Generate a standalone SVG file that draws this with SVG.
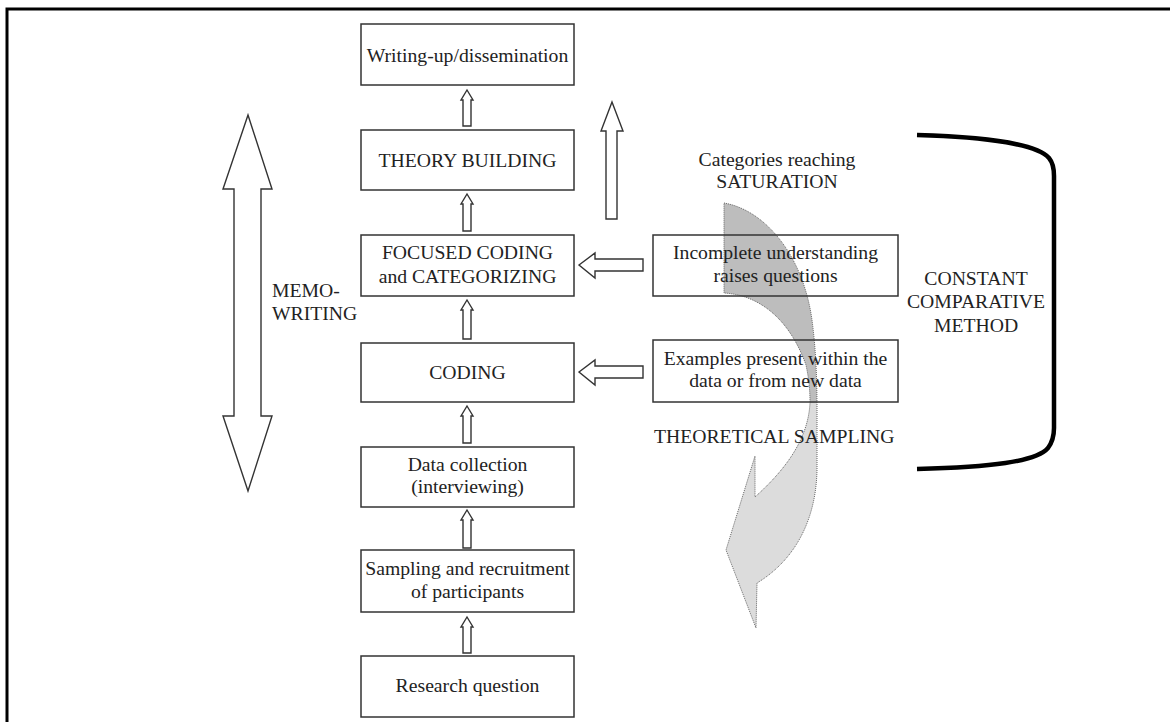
<svg xmlns="http://www.w3.org/2000/svg" width="1170" height="722" viewBox="0 0 1170 722">
  <style>
    .box { fill: none; stroke: #333; stroke-width: 1.5; }
    .hollow { fill: #fff; stroke: #333; stroke-width: 1.4; stroke-linejoin: miter; }
    .lbl { font-family: "Liberation Serif", "Times New Roman", serif; font-size: 19.7px; fill: #222; text-anchor: middle; }
    .lbl-l { font-family: "Liberation Serif", "Times New Roman", serif; font-size: 19.7px; fill: #222; }
    .frame { fill: none; stroke: #000; stroke-width: 3; }
    .bracket { fill: none; stroke: #000; stroke-width: 4.5; stroke-linecap: butt; }
    .sweep { fill: url(#sweepFill); stroke: #666; stroke-width: 1; stroke-dasharray: 1 1; }
  </style>
  <defs>
    <linearGradient id="sweepFill" gradientUnits="userSpaceOnUse" x1="0" y1="0" x2="0" y2="722">
      <stop offset="0" stop-color="#bdbdbd"/>
      <stop offset="0.558" stop-color="#bdbdbd"/>
      <stop offset="0.558" stop-color="#dcdcdc"/>
      <stop offset="1" stop-color="#dcdcdc"/>
    </linearGradient>
  </defs>

  <rect width="1170" height="722" fill="#fff"/>
  <path class="frame" d="M7,722 V9 H1170"/>

  <!-- curved theoretical-sampling sweep, behind the boxes -->
  <g id="sampling-sweep">
    <path class="sweep" d="M724,203 C765,210 803,255 812,320 C816,350 817,380 817,410 L817,470 C816,520 795,560 757,583 L756,628 L726,550 L755,456 L755,497 C785,470 808,440 810,403 C810,385 808,375 806,365 C790,320 760,295 724,293 Z"/>
  </g>

  <!-- connectors -->
  <g id="connectors">
    <!-- small upward arrows between process steps -->
    <path class="hollow" d="M467,90 L473,100 L471,100 L471,126 L463,126 L463,100 L461,100 Z"/>
    <path class="hollow" d="M467,194 L473,204 L471,204 L471,231 L463,231 L463,204 L461,204 Z"/>
    <path class="hollow" d="M467,300 L473,310 L471,310 L471,339 L463,339 L463,310 L461,310 Z"/>
    <path class="hollow" d="M467,406 L473,416 L471,416 L471,443 L463,443 L463,416 L461,416 Z"/>
    <path class="hollow" d="M467,510 L473,520 L471,520 L471,548 L463,548 L463,520 L461,520 Z"/>
    <path class="hollow" d="M467,617 L473,627 L471,627 L471,653 L463,653 L463,627 L461,627 Z"/>
    <!-- leftward arrows from the comparison boxes -->
    <path class="hollow" d="M579,265 L595,253 L595,259 L643,259 L643,271 L595,271 L595,278 Z"/>
    <path class="hollow" d="M579,372 L595,360 L595,366 L643,366 L643,378 L595,378 L595,385 Z"/>
    <!-- tall upward arrow toward theory building -->
    <path class="hollow" d="M612,102 L623,131 L617,131 L617,219 L606,219 L606,131 L601,131 Z"/>
    <!-- memo-writing double arrow -->
    <path class="hollow" d="M248,115 L272,189 L261,189 L261,416 L272,416 L248,491 L223,416 L234,416 L234,189 L223,189 Z"/>
    <!-- constant comparative bracket -->
    <path class="bracket" d="M917,135 C990,137 1038,145 1049,158 Q1054,164 1054,176 V428 Q1054,440 1048,448 C1036,462 990,467 917,469"/>
  </g>

  <g id="writing-up">
    <rect class="box" x="361" y="24" width="213" height="61"/>
    <text class="lbl" x="467.5" y="62">Writing-up/dissemination</text>
  </g>
  <g id="theory-building">
    <rect class="box" x="361" y="130" width="213" height="60"/>
    <text class="lbl" x="467.5" y="167">THEORY BUILDING</text>
  </g>
  <g id="focused-coding">
    <rect class="box" x="361" y="235" width="213" height="61"/>
    <text class="lbl" x="467.5" y="259">FOCUSED CODING</text>
    <text class="lbl" x="467.5" y="283">and CATEGORIZING</text>
  </g>
  <g id="coding">
    <rect class="box" x="361" y="343" width="213" height="59"/>
    <text class="lbl" x="467.5" y="379">CODING</text>
  </g>
  <g id="data-collection">
    <rect class="box" x="361" y="447" width="213" height="60"/>
    <text class="lbl" x="467.5" y="471">Data collection</text>
    <text class="lbl" x="467.5" y="493">(interviewing)</text>
  </g>
  <g id="sampling-recruitment">
    <rect class="box" x="361" y="550" width="213" height="62"/>
    <text class="lbl" x="467.5" y="575">Sampling and recruitment</text>
    <text class="lbl" x="467.5" y="598">of participants</text>
  </g>
  <g id="research-question">
    <rect class="box" x="361" y="656" width="213" height="61"/>
    <text class="lbl" x="467.5" y="692">Research question</text>
  </g>

  <g id="incomplete-understanding">
    <rect class="box" x="653" y="235" width="245" height="61"/>
    <text class="lbl" x="775.5" y="259">Incomplete understanding</text>
    <text class="lbl" x="775.5" y="282">raises questions</text>
  </g>
  <g id="examples-present">
    <rect class="box" x="653" y="340" width="245" height="62"/>
    <text class="lbl" x="775.5" y="365">Examples present within the</text>
    <text class="lbl" x="775.5" y="387">data or from new data</text>
  </g>

  <g id="saturation-label">
    <text class="lbl" x="777" y="166">Categories reaching</text>
    <text class="lbl" x="777" y="188">SATURATION</text>
  </g>
  <g id="theoretical-sampling-label">
    <text class="lbl-l" x="654" y="443">THEORETICAL SAMPLING</text>
  </g>
  <g id="memo-writing-label">
    <text class="lbl-l" x="272" y="297">MEMO-</text>
    <text class="lbl-l" x="272" y="320">WRITING</text>
  </g>
  <g id="constant-comparative-label">
    <text class="lbl" x="976" y="285">CONSTANT</text>
    <text class="lbl" x="976" y="308">COMPARATIVE</text>
    <text class="lbl" x="976" y="332">METHOD</text>
  </g>
</svg>
